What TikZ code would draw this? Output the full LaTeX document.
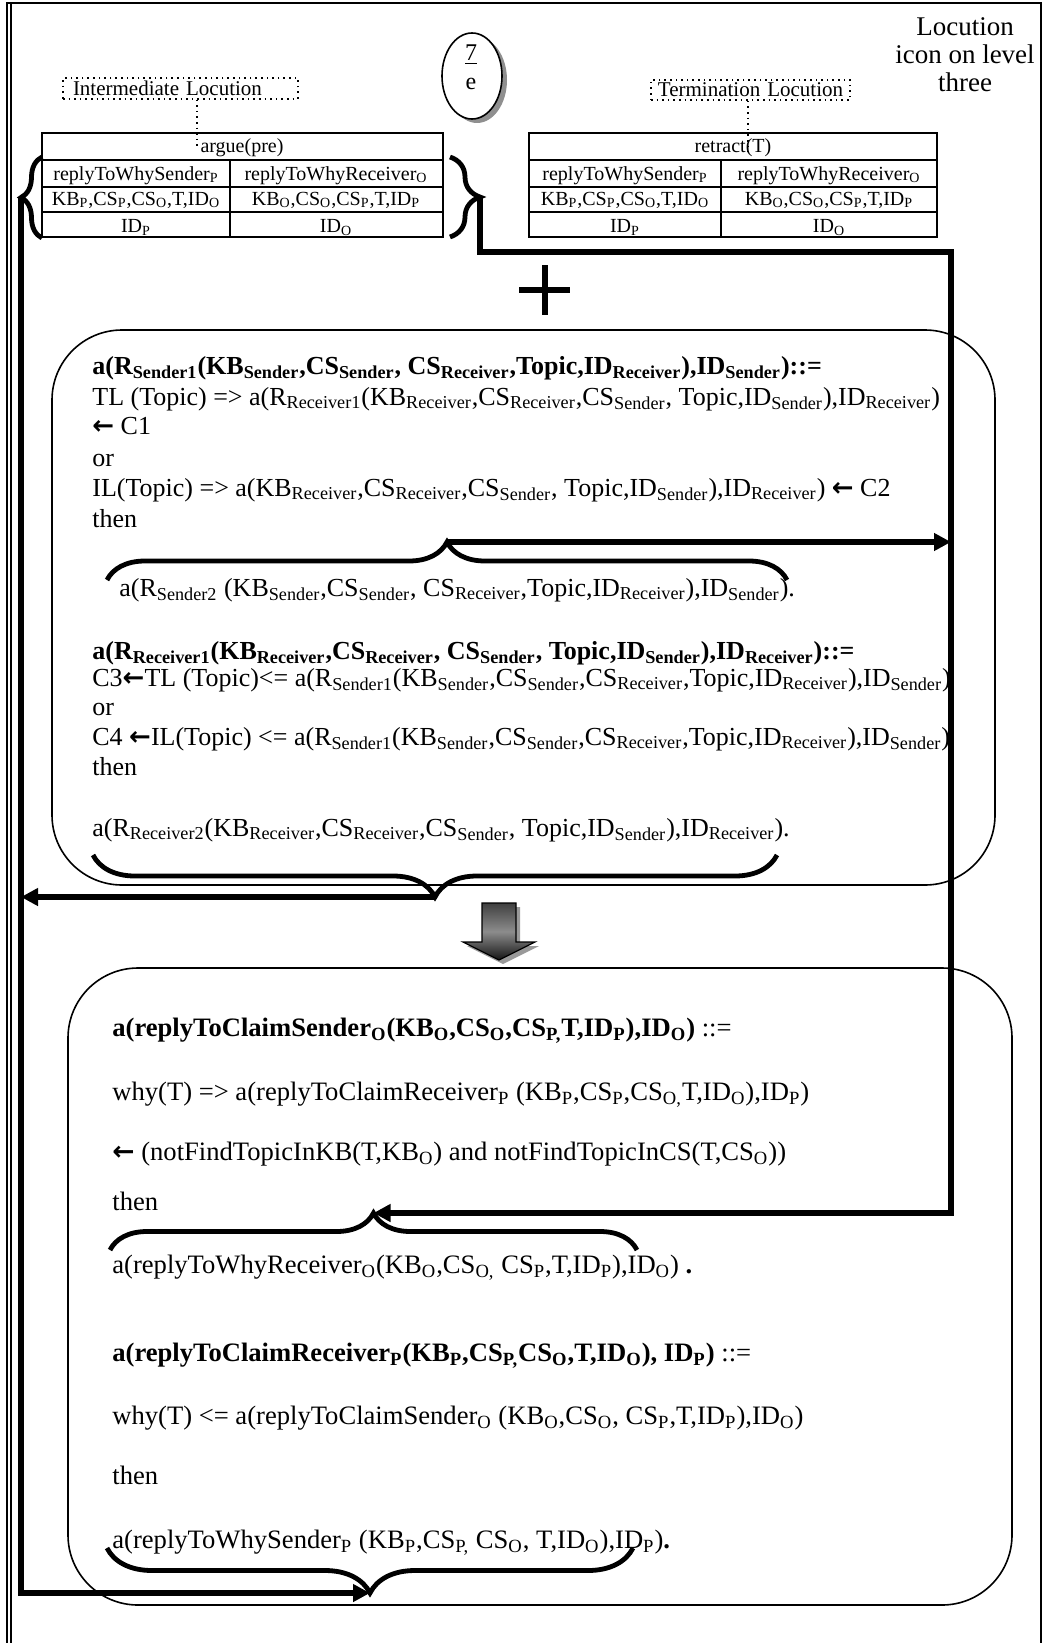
\documentclass[tikz,border=0pt]{standalone}
\usepackage{fontspec}
\setmainfont{Liberation Serif}
\newfontfamily\arrowfont{DejaVu Sans}
\usetikzlibrary{arrows.meta,decorations.pathreplacing,shapes.geometric,shadows,positioning}

\newcommand{\sx}[1]{\textsubscript{#1}}
\newcommand{\larr}{{\arrowfont\bfseries ←}}

\tikzset{
  pageframe/.style={line width=0.6pt},
  conn/.style={line width=2.6pt, line join=miter},
  arrowend/.style={-{Triangle[length=8.5pt,width=8.5pt]}},
  bracemark/.style={decorate, decoration={brace, amplitude=#1}, line width=2.4pt},
  locbox/.style={draw, dotted, line width=0.8pt, inner xsep=1pt, inner ysep=1.5pt, font=\fontsize{10.5}{12}\selectfont},
  locline/.style={dotted, line width=0.8pt},
  tabline/.style={line width=1pt},
  tabcell/.style={anchor=base, inner sep=0pt, font=\fontsize{10}{12}\selectfont},
  ruletext/.style={anchor=base west, inner sep=0pt, font=\fontsize{13}{15}\selectfont},
  casetext/.style={anchor=base west, inner sep=0pt, font=\fontsize{13.3}{15}\selectfont},
  rulebox/.style={draw, line width=0.8pt, rounded corners=35pt},
  levelicon/.style={ellipse, draw, line width=0.8pt, fill=white, minimum width=30pt, minimum height=43pt, inner sep=0pt,
    drop shadow={shadow xshift=2.5pt, shadow yshift=-2pt, fill=black!55, opacity=0.8}},
}

\begin{document}
\begin{tikzpicture}[x=0.5pt, y=-0.5pt]
  \useasboundingbox (0,0) rectangle (1043,1643);

  % page frame
  \draw[pageframe] (7,3) rectangle (1041,1660);
  \draw[pageframe] (11,3) -- (11,1660);

  % level icon and its caption
  \node[levelicon] (icon) at (472,76) {};
  \node[align=center, inner sep=0pt, font=\fontsize{12}{14.5}\selectfont] (iconno) at (471,67) {\underline{7}\\e};
  \node[align=center, inner sep=0pt, font=\fontsize{13.5}{14}\selectfont] (lvl) at (965,55) {Locution\\icon on level\\three};

  % locution labels
  \node[locbox, text width=115.5pt, align=left] (inter) at (180.5,88.5) {\hspace*{4pt}Intermediate Locution};
  \node[locbox, text width=97.5pt, align=center] (term) at (750.5,90) {Termination Locution};
  \coordinate (interend) at (197,147);
  \coordinate (termend) at (748,152);
  \draw[locline] (interend |- inter.south) -- (interend);
  \draw[locline] (termend |- term.south) -- (termend);

  % intermediate locution table
  \draw[tabline] (42,133) rectangle (443,237);
  \foreach \y in {160,187,212} \draw[tabline] (42,\y) -- (443,\y);
  \draw[tabline] (230,160) -- (230,237);
  \node[tabcell] (arg) at (242,152) {argue(pre)};
  \node[tabcell] (arg1) at (136,180) {replyToWhySender\sx{P}};
  \node[tabcell] (arg2) at (336,180) {replyToWhyReceiver\sx{O}};
  \node[tabcell] (arg3) at (136,205) {KB\sx{P},CS\sx{P},CS\sx{O},T,ID\sx{O}};
  \node[tabcell] (arg4) at (336,205) {KB\sx{O},CS\sx{O},CS\sx{P},T,ID\sx{P}};
  \node[tabcell] (arg5) at (136,232) {ID\sx{P}};
  \node[tabcell] (arg6) at (336,232) {ID\sx{O}};

  % termination locution table
  \draw[tabline] (529,133) rectangle (937,237);
  \foreach \y in {160,187,212} \draw[tabline] (529,\y) -- (937,\y);
  \draw[tabline] (721,160) -- (721,237);
  \node[tabcell] (ret) at (733,152) {retract(T)};
  \node[tabcell] (ret1) at (625,180) {replyToWhySender\sx{P}};
  \node[tabcell] (ret2) at (829,180) {replyToWhyReceiver\sx{O}};
  \node[tabcell] (ret3) at (625,205) {KB\sx{P},CS\sx{P},CS\sx{O},T,ID\sx{O}};
  \node[tabcell] (ret4) at (829,205) {KB\sx{O},CS\sx{O},CS\sx{P},T,ID\sx{P}};
  \node[tabcell] (ret5) at (625,232) {ID\sx{P}};
  \node[tabcell] (ret6) at (829,232) {ID\sx{O}};

  % plus sign
  \draw[line width=2.8pt] (545,265) -- (545,315) (519,290) -- (570,290);

  % generic rule box
  \draw[rulebox] (52,330) rectangle (995,885);
  \node[ruletext] (s1) at (92,374) {\textbf{a(R\sx{Sender1}(KB\sx{Sender},CS\sx{Sender}, CS\sx{Receiver},Topic,ID\sx{Receiver}),ID\sx{Sender})::=}};
  \node[ruletext] (s2) at (92,405) {TL (Topic) => a(R\sx{Receiver1}(KB\sx{Receiver},CS\sx{Receiver},CS\sx{Sender}, Topic,ID\sx{Sender}),ID\sx{Receiver})};
  \node[ruletext] (s3) at (92,434) {\larr{} C1};
  \node[ruletext] (s4) at (92,466) {or};
  \node[ruletext] (s5) at (92,496) {IL(Topic) => a(KB\sx{Receiver},CS\sx{Receiver},CS\sx{Sender}, Topic,ID\sx{Sender}),ID\sx{Receiver}) \larr{} C2};
  \node[ruletext] (s6) at (92,527) {then};
  \node[ruletext] (s7) at (119,596) {a(R\sx{Sender2} (KB\sx{Sender},CS\sx{Sender}, CS\sx{Receiver},Topic,ID\sx{Receiver}),ID\sx{Sender}).};
  \node[ruletext] (r1) at (92,659) {\textbf{a(R\sx{Receiver1}(KB\sx{Receiver},CS\sx{Receiver}, CS\sx{Sender}, Topic,ID\sx{Sender}),ID\sx{Receiver})::=}};
  \node[ruletext] (r2) at (92,686) {C3\larr TL (Topic)<= a(R\sx{Sender1}(KB\sx{Sender},CS\sx{Sender},CS\sx{Receiver},Topic,ID\sx{Receiver}),ID\sx{Sender})};
  \node[ruletext] (r3) at (92,715) {or};
  \node[ruletext] (r4) at (92,745) {C4 \larr IL(Topic) <= a(R\sx{Sender1}(KB\sx{Sender},CS\sx{Sender},CS\sx{Receiver},Topic,ID\sx{Receiver}),ID\sx{Sender})};
  \node[ruletext] (r5) at (92,775) {then};
  \node[ruletext] (r6) at (92,836) {a(R\sx{Receiver2}(KB\sx{Receiver},CS\sx{Receiver},CS\sx{Sender}, Topic,ID\sx{Sender}),ID\sx{Receiver}).};

  % down arrow
  \fill[black!40] (486,907) -- (520,907) -- (520,946) -- (539,946) -- (503,964) -- (467,946) -- (486,946) -- cycle;
  \draw[line width=0.6pt, top color=black!75, bottom color=black!92, middle color=black!45]
    (482,903) -- (516,903) -- (516,942) -- (535,942) -- (499,960) -- (463,942) -- (482,942) -- cycle;

  % instance rule box
  \draw[rulebox] (68,968) rectangle (1012,1605);
  \node[casetext] (c1) at (112,1036) {\textbf{a(replyToClaimSender\sx{O}(KB\sx{O},CS\sx{O},CS\sx{P,}T,ID\sx{P}),ID\sx{O})} ::=};
  \node[casetext] (c2) at (112,1100) {why(T) => a(replyToClaimReceiver\sx{P} (KB\sx{P},CS\sx{P},CS\sx{O,}T,ID\sx{O}),ID\sx{P})};
  \node[casetext] (c3) at (112,1160) {\larr{} (notFindTopicInKB(T,KB\sx{O}) and notFindTopicInCS(T,CS\sx{O}))};
  \node[casetext] (c4) at (112,1210) {then};
  \node[casetext] (c5) at (112,1273) {a(replyToWhyReceiver\sx{O}(KB\sx{O},CS\sx{O,} CS\sx{P},T,ID\sx{P}),ID\sx{O}) \textbf{.}};
  \node[casetext] (w1) at (112,1361) {\textbf{a(replyToClaimReceiver\sx{P}(KB\sx{P},CS\sx{P,}CS\sx{O},T,ID\sx{O}), ID\sx{P})} ::=};
  \node[casetext] (w2) at (112,1424) {why(T) <= a(replyToClaimSender\sx{O} (KB\sx{O},CS\sx{O}, CS\sx{P},T,ID\sx{P}),ID\sx{O})};
  \node[casetext] (w3) at (112,1484) {then};
  \node[casetext] (w4) at (112,1548) {a(replyToWhySender\sx{P} (KB\sx{P},CS\sx{P,} CS\sx{O}, T,ID\sx{O}),ID\sx{P})\textbf{.}};

  % braces
  \draw[bracemark=10.5pt] (42,238) -- (42,157);
  \draw[bracemark=15pt] (450,157) -- (450,237);
  \draw[bracemark=19pt] (107,580) -- (787,580);
  \draw[bracemark=21pt] (777,855) -- (93,855);
  \draw[bracemark=18.5pt] (110,1250) -- (637,1250);
  \draw[bracemark=22.5pt] (633,1548) -- (107,1548);

  % brace tips
  \coordinate (lbtip) at (21,198);
  \coordinate (rbtip) at (480,198);
  \coordinate (rbend) at (951,252);
  \coordinate (atip) at (447,542);
  \coordinate (btip) at (435,897);
  \coordinate (ctip) at (373.5,1213);
  \coordinate (dtip) at (370,1593);

  % connectors
  \draw[conn, arrowend] (lbtip) |- (dtip);
  \draw[conn, arrowend] (rbtip) |- (rbend) |- (ctip);
  \draw[conn, arrowend] (atip) -- (atip -| rbend);
  \draw[conn, arrowend] (btip) -- (btip -| lbtip);
\end{tikzpicture}
\end{document}
